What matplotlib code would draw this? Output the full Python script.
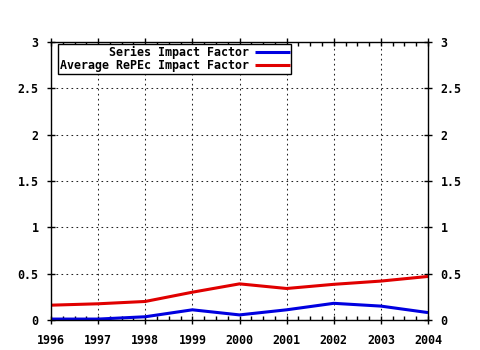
import matplotlib
matplotlib.use("Agg")
import matplotlib.pyplot as plt
from matplotlib.ticker import MultipleLocator, FuncFormatter

years = [1996, 1997, 1998, 1999, 2000, 2001, 2002, 2003, 2004]
series_if = [0.01, 0.01, 0.035, 0.11, 0.055, 0.11, 0.18, 0.15, 0.08]
average_if = [0.16, 0.175, 0.20, 0.30, 0.39, 0.34, 0.385, 0.42, 0.47]
y_ticks = [0, 0.5, 1, 1.5, 2, 2.5, 3]

plt.rcParams["font.family"] = ["DejaVu Sans Mono"]
plt.rcParams["font.weight"] = "bold"
plt.rcParams["font.size"] = 8.4

W, H = 480, 350
fig = plt.figure(figsize=(W / 100, H / 100), dpi=100)
ax = fig.add_axes([51 / W, 30 / H, 377 / W, 278 / H])

ax.plot(years, series_if, color="#0000e0", lw=2.2, label="Series Impact Factor",
        solid_capstyle="butt")
ax.plot(years, average_if, color="#e00000", lw=2.2, label="Average RePEc Impact Factor",
        solid_capstyle="butt")

ax.set_xlim(years[0], years[-1])
ax.set_ylim(y_ticks[0], y_ticks[-1])
ax.set_xticks(years)
ax.set_yticks(y_ticks)
ax.xaxis.set_minor_locator(MultipleLocator(0.25))
ax.yaxis.set_major_formatter(FuncFormatter(lambda v, p: f"{v:g}"))

ax.grid(True, which="major", color="#222222", linestyle=(0, (1.6, 3.2)), linewidth=0.75)
ax.tick_params(which="major", direction="inout", length=6, width=1,
               top=True, right=True, labelright=True, pad=6)
ax.tick_params(axis="x", which="major", pad=7)
ax.tick_params(which="minor", direction="in", length=3, width=1,
               top=True, bottom=True, left=False, right=False)
for s in ax.spines.values():
    s.set_linewidth(1)
    s.set_color("black")

leg = ax.legend(loc="upper left", bbox_to_anchor=(7 / 377, 1 - 2 / 278),
                borderaxespad=0, markerfirst=False, fancybox=False,
                framealpha=1, edgecolor="black", borderpad=0.15,
                labelspacing=0.05, handlelength=3.0, handletextpad=0.5,
                prop={"weight": "bold", "size": 8.4})
leg.get_frame().set_linewidth(1)

fig.savefig("out.png", dpi=100)
